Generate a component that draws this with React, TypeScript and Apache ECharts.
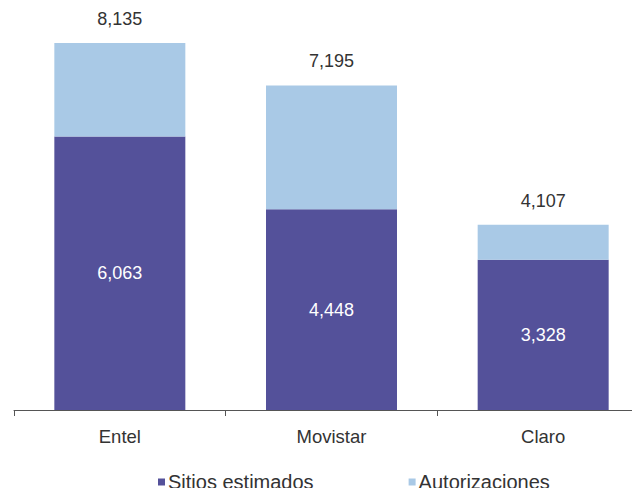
import React, { useEffect, useRef } from "react";
import * as echarts from "echarts";

const categories = ["Entel", "Movistar", "Claro"];
const sitiosEstimados = [6063, 4448, 3328];
const autorizaciones = [2072, 2747, 779];
const totals = [8135, 7195, 4107];

const fmt = (v: number) => v.toLocaleString("en-US");

export default function App() {
  const ref = useRef<HTMLDivElement>(null);
  useEffect(() => {
    if (!ref.current) return;
    const chart = echarts.init(ref.current, null, { renderer: "svg" });
    const font = "'Liberation Sans', Arial, sans-serif";
    chart.setOption({
      animation: false,
      backgroundColor: "#ffffff",
      textStyle: { fontFamily: font },
      grid: {
        left: 14,
        width: 635,
        top: 4,
        bottom: 86,
        containLabel: false,
        outerBoundsMode: "none",
      },
      legend: {
        top: 467,
        left: 153,
        itemGap: 95,
        itemWidth: 7,
        itemHeight: 7,
        icon: "rect",
        textStyle: { fontSize: 20, color: "#333333", fontFamily: font, padding: [0, 0, 0, -2] },
        data: ["Sitios estimados", "Autorizaciones"],
      },
      xAxis: {
        type: "category",
        data: categories,
        boundaryGap: true,
        axisLine: { lineStyle: { color: "#555555", width: 1 } },
        axisTick: { show: true, length: 6, lineStyle: { color: "#555555" } },
        axisLabel: { fontSize: 18.5, color: "#333333", margin: 17, fontFamily: font },
      },
      yAxis: {
        type: "value",
        min: 0,
        max: 9000,
        show: false,
        splitLine: { show: false },
      },
      series: [
        {
          name: "Sitios estimados",
          type: "bar",
          stack: "total",
          barWidth: 131,
          data: sitiosEstimados,
          itemStyle: { color: "#54519a" },
          label: {
            show: true,
            position: "inside",
            color: "#ffffff",
            fontSize: 18,
            fontFamily: font,
            formatter: (p: any) => fmt(p.value),
          },
        },
        {
          name: "Autorizaciones",
          type: "bar",
          stack: "total",
          barWidth: 131,
          data: autorizaciones,
          itemStyle: { color: "#a9c9e6" },
          label: {
            show: true,
            position: "top",
            distance: 15,
            color: "#333333",
            fontSize: 18,
            fontFamily: font,
            formatter: (p: any) => fmt(totals[p.dataIndex]),
          },
        },
      ],
    });
    return () => chart.dispose();
  }, []);
  return <div ref={ref} style={{ width: 640, height: 496, margin: -8 }} />;
}
